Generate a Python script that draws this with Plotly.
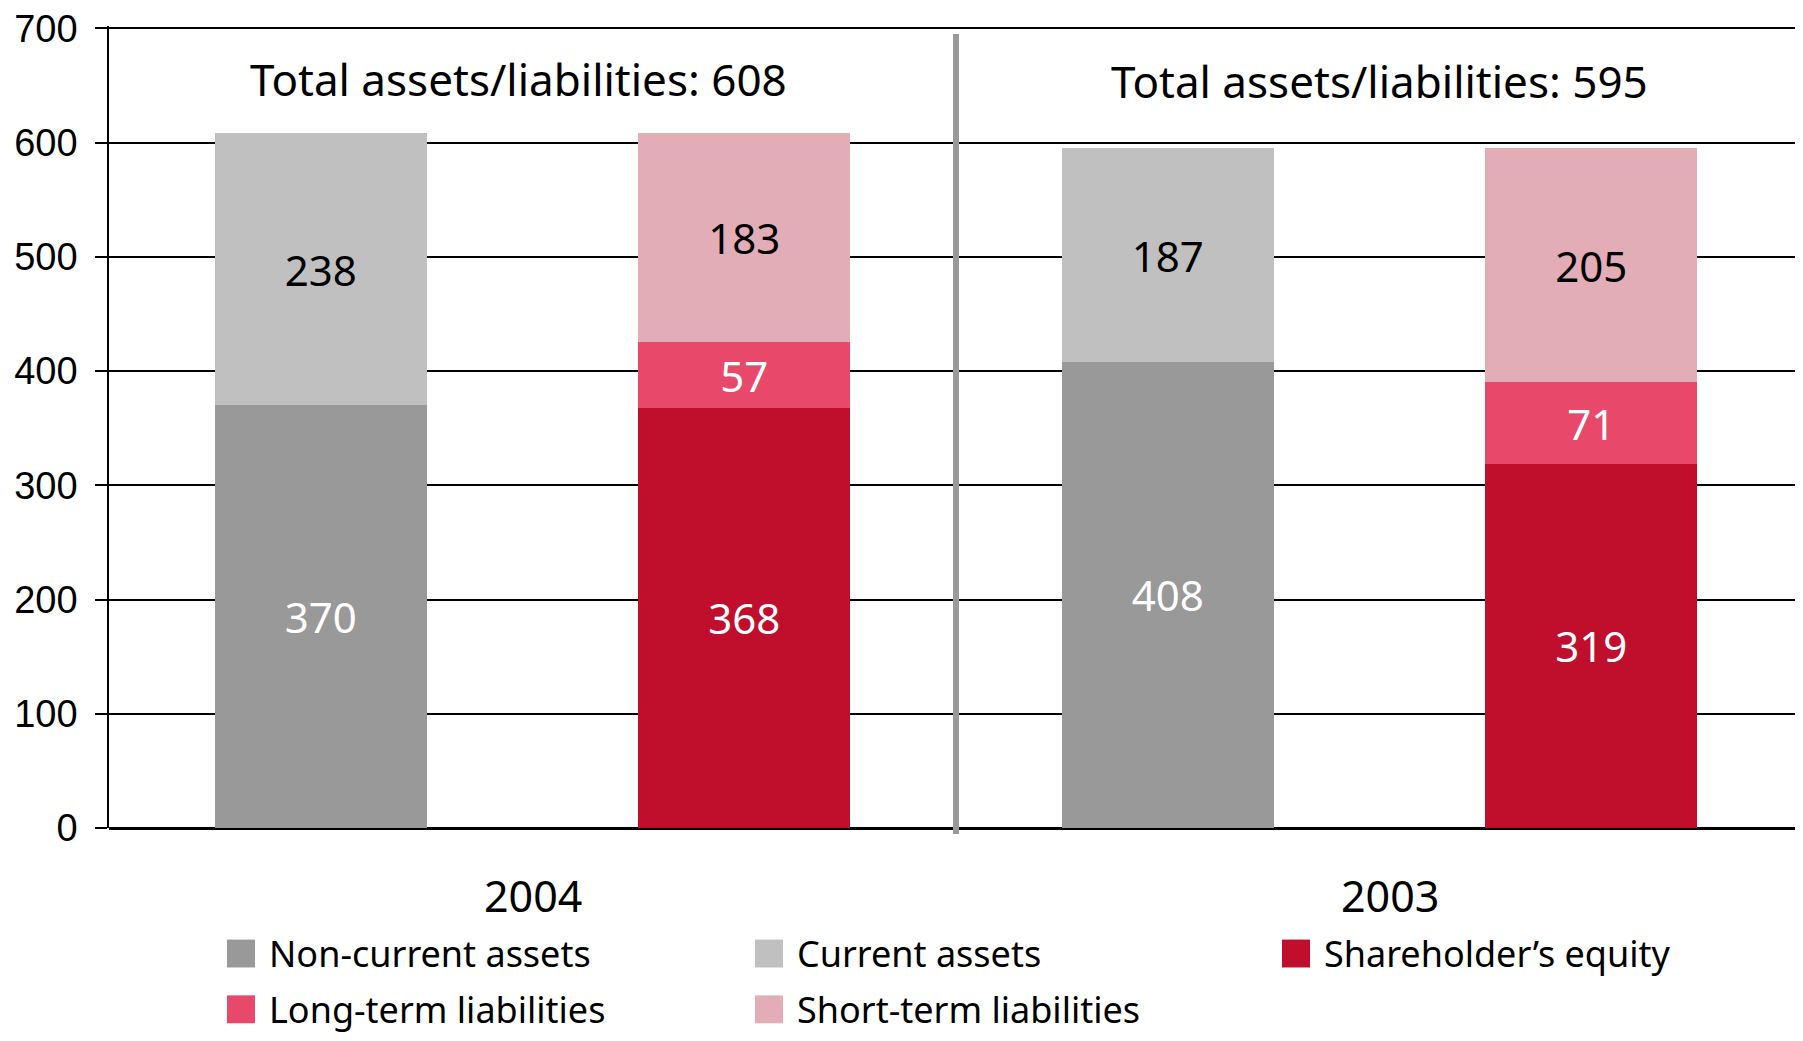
import plotly.graph_objects as go

# 데이터
bars = ["2004 assets", "2004 liabilities", "2003 assets", "2003 liabilities"]
years = ["2004", "2003"]
totals = [608, 595]

names = ["Non-current assets", "Current assets", "Shareholder\u2019s equity",
         "Long-term liabilities", "Short-term liabilities"]
non_current = [370, None, 408, None]
current = [238, None, 187, None]
equity = [None, 368, None, 319]
long_term = [None, 57, None, 71]
short_term = [None, 183, None, 205]

series = [non_current, current, equity, long_term, short_term]
colors = ["#999999", "#c0c0c0", "#c00e2d", "#e8486a", "#e2adb6"]
text_colors = ["white", "black", "white", "white", "black"]

TXT = "Noto Sans"

# 페이지 body 여백(8px)을 감안한 크기/위치
W, H = 1795, 1025
L, T, B = 101, 15, 205
PW, PH = W - L, H - T - B   # plot area 크기 (px)


def px_x(x):  # 페이지 px -> paper
    return (x - 8 - L) / PW


def px_y(y):
    return (T + PH - (y - 8)) / PH


fig = go.Figure()
for name, vals, col, tcol in zip(names, series, colors, text_colors):
    fig.add_trace(go.Bar(
        x=bars, y=vals, name=name, marker_color=col, marker_line_width=0,
        text=[("" if v is None else str(v)) for v in vals],
        textposition="inside", insidetextanchor="middle", textangle=0,
        constraintext="none",
        textfont=dict(family=TXT, size=42, color=tcol),
        showlegend=False,
    ))

# 총계 제목 + 연도 라벨
for i, (yr, tot) in enumerate(zip(years, totals)):
    fig.add_annotation(x=[0.466, 2.501][i], y=[656, 654][i], xref="x", yref="y",
                       text=f"Total assets/liabilities: {tot}", showarrow=False,
                       font=dict(family=TXT, size=44, color="black"))
    fig.add_annotation(x=[0.5, 2.525][i], y=px_y(896), xref="x", yref="paper",
                       yanchor="middle", text=yr, showarrow=False,
                       font=dict(family=TXT, size=43, color="black"))

# 연도 구분선
fig.add_shape(type="line", xref="x", yref="paper", x0=1.5, x1=1.5,
              y0=px_y(834), y1=px_y(31), line=dict(color="#999999", width=6))

# 범례 (수동)
col_x = [227, 755, 1282]
row_y = [954, 1010]
for k, (name, col) in enumerate(zip(names, colors)):
    x0 = col_x[k % 3]
    yc = row_y[k // 3]
    fig.add_shape(type="rect", xref="paper", yref="paper",
                  x0=px_x(x0), x1=px_x(x0 + 28),
                  y0=px_y(yc + 14), y1=px_y(yc - 14),
                  fillcolor=col, line_width=0)
    fig.add_annotation(x=px_x(x0 + 40), y=px_y(yc),
                       xref="paper", yref="paper", xanchor="left", yanchor="middle",
                       text=name, showarrow=False,
                       font=dict(family=TXT, size=36, color="black"))

fig.update_layout(
    width=W, height=H,
    margin=dict(l=L, r=0, t=T, b=B),
    barmode="stack", bargap=0.5,
    plot_bgcolor="white", paper_bgcolor="white",
    showlegend=False,
    xaxis=dict(showticklabels=False, showgrid=False, showline=False, ticks="",
               range=[-0.5, 3.5], fixedrange=True),
    yaxis=dict(range=[0, 702], tickvals=[0, 100, 200, 300, 400, 500, 600, 700],
               showgrid=True, gridcolor="black",
               gridwidth=1.5, zeroline=True, zerolinecolor="black", zerolinewidth=2.5,
               showline=True, linecolor="black", linewidth=1.5,
               ticks="outside", ticklen=12, tickcolor="black", tickwidth=1.5,
               ticklabelstandoff=10, ticklabeloverflow="allow",
               tickfont=dict(family="Liberation Sans", size=38, color="black")),
)

fig.write_html("out.html")
